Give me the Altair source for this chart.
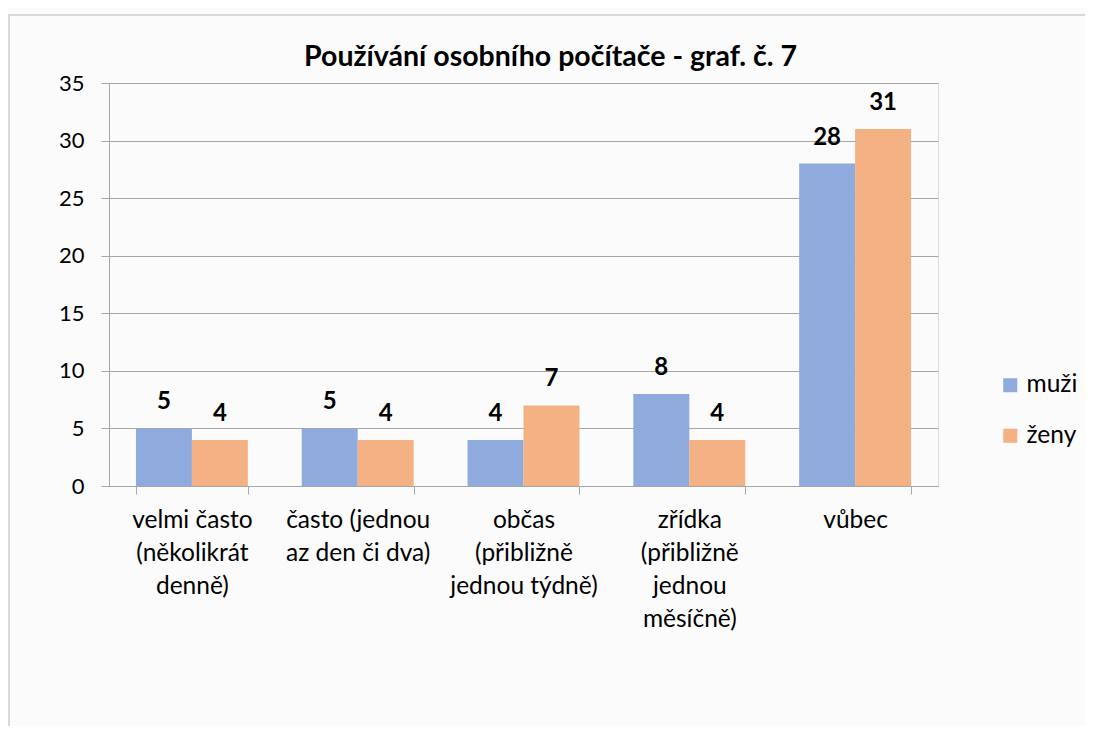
import altair as alt
import pandas as pd

categories = [
    "velmi často (několikrát denně)",
    "často (jednou az den či dva)",
    "občas (přibližně jednou týdně)",
    "zřídka (přibližně jednou měsíčně)",
    "vůbec",
]
label_lines = [
    "velmi často\n(několikrát\ndenně)",
    "často (jednou\naz den či dva)",
    "občas\n(přibližně\njednou týdně)",
    "zřídka\n(přibližně\njednou\nměsíčně)",
    "vůbec",
]
series = ["muži", "ženy"]
muzi = [5, 5, 4, 8, 28]
zeny = [4, 4, 7, 4, 31]
colors = ["#8faadc", "#f4b183"]

rows = []
for i, c in enumerate(categories):
    rows.append({"kategorie": c, "pohlaví": "muži", "hodnota": muzi[i]})
    rows.append({"kategorie": c, "pohlaví": "ženy", "hodnota": zeny[i]})
df = pd.DataFrame(rows)

label_map = "{" + ", ".join(
    '"%s": "%s"' % (c, l.replace("\n", "|")) for c, l in zip(categories, label_lines)
) + "}"

W, H = 829, 403
PL, PT, PR, PB = 101, 75, 147, 240
FONT = "Lato"
AXC = "#a6a6a6"

x_enc = alt.X(
    "kategorie:N",
    sort=categories,
    title=None,
    scale=alt.Scale(paddingInner=0.325, paddingOuter=0.1625),
    axis=alt.Axis(
        labelAngle=0,
        labelExpr="isValid(" + label_map + "[datum.label]) ? split(" + label_map + "[datum.label], '|') : ''",
        labelFontSize=24.5,
        labelFont=FONT,
        labelColor="#000000",
        labelLineHeight=33.3,
        labelPadding=14,
        labelBaseline="top",
        tickBand="extent",
        tickSize=8,
        tickColor=AXC,
        domainColor=AXC,
        grid=False,
    ),
)
xo = alt.XOffset("pohlaví:N", sort=series)

bars = alt.Chart(df).mark_bar().encode(
    x=x_enc,
    xOffset=xo,
    y=alt.Y(
        "hodnota:Q",
        title=None,
        scale=alt.Scale(domain=[0, 35], nice=False),
        axis=alt.Axis(
            values=[0, 5, 10, 15, 20, 25, 30, 35],
            labelFontSize=22,
            labelFont=FONT,
            labelColor="#000000",
            labelPadding=17,
            tickSize=8,
            tickColor=AXC,
            domainColor=AXC,
            gridColor=AXC,
            gridWidth=1,
        ),
    ),
    color=alt.Color(
        "pohlaví:N",
        sort=series,
        scale=alt.Scale(domain=series, range=colors),
        legend=alt.Legend(
            title=None,
            orient="none",
            legendX=889,
            legendY=290,
            symbolType="square",
            symbolSize=196,
            symbolStrokeWidth=0,
            labelFontSize=24.5,
            labelFont=FONT,
            labelColor="#000000",
            rowPadding=25.5,
            labelOffset=4,
            labelLimit=200,
        ),
    ),
)

text = alt.Chart(df).mark_text(
    fontSize=24, fontWeight="bold", font=FONT, baseline="bottom", dy=-14, color="#000000"
).encode(
    x=alt.X("kategorie:N", sort=categories),
    xOffset=alt.XOffset("pohlaví:N", sort=series),
    y="hodnota:Q",
    text="hodnota:Q",
)

frame = alt.Chart(pd.DataFrame({"a": [0]})).mark_rect(
    fill=None, stroke="#d9d9d9", strokeWidth=2
).encode(
    x=alt.value(-100), x2=alt.value(W + PR + 20), y=alt.value(-68), y2=alt.value(H + PB + 20)
)

chart = alt.layer(frame, bars, text).properties(
    width=W,
    height=H,
    padding={"left": PL, "top": PT, "right": PR, "bottom": PB},
    autosize=alt.AutoSizeParams(type="none"),
    title=alt.TitleParams(
        "Používání osobního počítače - graf. č. 7",
        fontSize=28.5,
        font=FONT,
        fontWeight="bold",
        color="#000000",
        anchor="middle",
        frame="group",
        dx=27,
        dy=57,
        offset=0,
    ),
).configure_view(stroke=None).configure(background="#fbfbfb")

chart.save("out.html", embed_options={"renderer": "svg", "actions": False})
